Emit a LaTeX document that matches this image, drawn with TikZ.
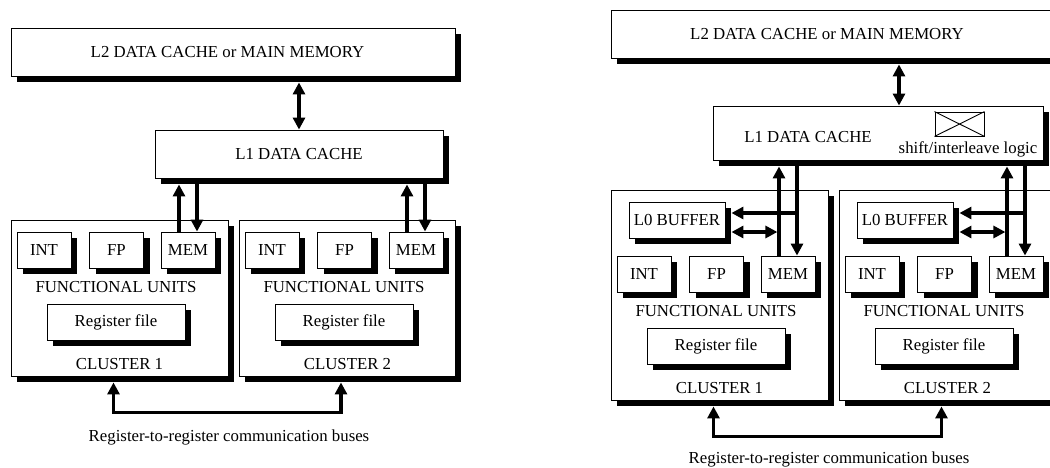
\documentclass[tikz,border=0pt]{standalone}
\usepackage{fontspec}
\setmainfont{Liberation Serif}
\usetikzlibrary{arrows.meta,shadows,calc}

\begin{document}
\begin{tikzpicture}[x=1pt,y=-1pt,
  every node/.style={font=\fontsize{16.8}{20}\selectfont},
  box/.style={draw,fill=white,line width=0.9pt,inner sep=0pt,minimum height=36pt,
    drop shadow={shadow xshift=6pt,shadow yshift=-6pt,fill=black,opacity=1}},
  txt/.style={inner sep=0pt},
  bus/.style={line width=3.2pt},
  >={Triangle[width=12pt,length=12pt]}]
  \path[use as bounding box,clip] (0,0) rectangle (1050,467);

  % left: caches
  \node[box,minimum width=444pt,minimum height=48pt] (l2a) at (233,52) {};
  \node[txt] (l2albl) at (227.5,52) {L2 DATA CACHE or MAIN MEMORY};
  \node[box,minimum width=288pt,minimum height=48pt] (l1a) at (299,154) {L1 DATA CACHE};
  % left: clusters
  \node[box,minimum width=217pt,minimum height=156pt] (c1a) at (119.5,298) {};
  \node[box,minimum width=216pt,minimum height=156pt] (c2a) at (347,298) {};

  % right: caches
  \node[box,minimum width=445pt,minimum height=48pt] (l2b) at (833.5,34) {};
  \node[txt] (l2blbl) at (827,34) {L2 DATA CACHE or MAIN MEMORY};
  \node[box,minimum width=330pt,minimum height=54pt] (l1b) at (878,133) {};
  \node[txt] (l1lbl) at (808,137) {L1 DATA CACHE};
  \node[draw,line width=0.9pt,inner sep=0pt,minimum width=49pt,minimum height=24pt] (xbar) at (959.5,124) {};
  \draw[line width=0.9pt] (xbar.north west) -- (xbar.south east) (xbar.south west) -- (xbar.north east);
  \node[txt] (xlbl) at (968,149) {shift/interleave logic};
  % right: clusters
  \node[box,minimum width=217pt,minimum height=210pt] (c1b) at (719.5,295) {};
  \node[box,minimum width=217pt,minimum height=210pt] (c2b) at (947.5,295) {};
  \node[box,minimum width=96pt] (l01b) at (677,220) {L0 BUFFER};
  \node[box,minimum width=96pt] (l02b) at (905,220) {L0 BUFFER};

  % functional units, register file, cluster names
  \foreach \c/\k/\dx/\y in {1a/1/0/250, 2a/2/228/250, 1b/1/600/274, 2b/2/828/274} {
    \foreach \nm/\lbl/\x in {int/INT/44, fp/FP/116.5, mem/MEM/188}
      \node[box,minimum width=54pt] (\nm\c) at (\x+\dx,\y) {\lbl};
    \node[txt] (fu\c) at (116+\dx,\y+37) {FUNCTIONAL UNITS};
    \node[box,minimum width=138pt] (rf\c) at (116+\dx,\y+72) {Register file};
    \node[txt] (cl\c) at (119.5+\dx,\y+114.5) {CLUSTER \k};
  }

  % left connections
  \draw[bus,<->] ($(l1a.north |- l2a.south)+(0,6)$) -- (l1a.north);
  \foreach \c in {1a,2a} {
    \draw[bus,->] ($(mem\c.north)+(-9,0)$) -- ($(mem\c.north |- l1a.south)+(-9,6)$);
    \draw[bus,->] ($(mem\c.north |- l1a.south)+(9,6)$) -- ($(mem\c.north)+(9,0)$);
  }
  \draw[bus,<->] ($(c1a.south)+(-6,6)$) -- ++(0,30) -| ($(c2a.south)+(-6,6)$);
  \node[txt] (busa) at (229,437) {Register-to-register communication buses};

  % right connections
  \draw[bus,<->] ($(l1b.north |- l2b.south)+(21,6)$) -- ($(l1b.north)+(21,0)$);
  \foreach \c in {1b,2b} {
    \draw[bus,->] ($(mem\c.north)+(-9,0)$) -- ($(mem\c.north |- l1b.south)+(-9,6)$);
    \draw[bus,->] ($(mem\c.north |- l1b.south)+(9,6)$) -- ($(mem\c.north)+(9,0)$);
    \draw[bus,->] ($(mem\c.north |- l0\c.east)+(10.6,-7)$) -- ($(l0\c.east)+(6,-7)$);
    \draw[bus,<->] ($(l0\c.east)+(6,12)$) -- ($(mem\c.north |- l0\c.east)+(-10.6,12)$);
  }
  \draw[bus,<->] ($(c1b.south)+(-6,6)$) -- ++(0,30) -| ($(c2b.south)+(-6,6)$);
  \node[txt] (busb) at (829,459) {Register-to-register communication buses};
\end{tikzpicture}
\end{document}
